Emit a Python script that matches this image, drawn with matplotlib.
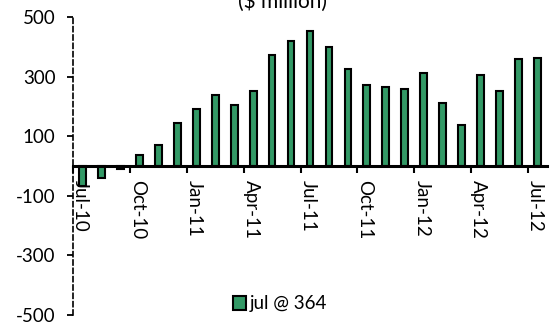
import matplotlib.pyplot as plt

plt.rcParams['font.family'] = ['Lato', 'DejaVu Sans']

months = ['Jul-10', 'Aug-10', 'Sep-10', 'Oct-10', 'Nov-10', 'Dec-10',
          'Jan-11', 'Feb-11', 'Mar-11', 'Apr-11', 'May-11', 'Jun-11',
          'Jul-11', 'Aug-11', 'Sep-11', 'Oct-11', 'Nov-11', 'Dec-11',
          'Jan-12', 'Feb-12', 'Mar-12', 'Apr-12', 'May-12', 'Jun-12', 'Jul-12']
values = [-65, -40, -10, 38, 72, 145, 193, 239, 206, 254, 374, 421,
          455, 401, 327, 273, 266, 259, 313, 212, 138, 307, 254, 361, 364]
series_name = 'jul @ 364'
yticks = [-500, -300, -100, 100, 300, 500]

fig = plt.figure(figsize=(5.51, 3.25), dpi=100)
ax = fig.add_axes([73/551, 1 - 315/325, 474/551, (315 - 17.3)/325])

x = list(range(len(values)))
bars = ax.bar(x, values, width=0.36, color='#339966', edgecolor='black',
              linewidth=1.5, label=series_name, zorder=3)

ax.set_xlim(-0.5, len(values) - 0.5)
ax.set_ylim(-500, 500)

# y axis: dashed spine
ax.spines['left'].set_linestyle((0, (3, 2)))
ax.spines['left'].set_linewidth(1.2)
ax.spines['right'].set_visible(False)
ax.spines['top'].set_visible(False)
ax.spines['bottom'].set_position(('data', 0))
ax.spines['bottom'].set_linewidth(2.2)
ax.spines['bottom'].set_zorder(4)

ax.set_yticks(yticks)
ax.set_yticklabels([str(v) for v in yticks], fontsize=13.5)
ax.tick_params(axis='y', direction='out', length=4.5, width=1.3, pad=8)

# labels at category centres, tick marks at category boundaries
lab_idx = list(range(0, len(months), 3))
ax.set_xticks([i - 0.1 for i in lab_idx])
ax.set_xticklabels([months[i] for i in lab_idx], rotation=270, fontsize=13.5)
ax.tick_params(axis='x', which='major', length=0, pad=10)
ax.set_xticks([i - 0.5 for i in lab_idx], minor=True)
ax.tick_params(axis='x', which='minor', direction='out', length=5, width=1.5)

fig.text(0.512, 1 - 2/325, '($ million)', ha='center', va='center', fontsize=15)

fig.legend(handles=[bars], labels=[series_name], loc='center',
           bbox_to_anchor=(0.508, 1 - 304/325), frameon=False, fontsize=13.5,
           handlelength=0.7, handleheight=0.7, handletextpad=0.2)

fig.savefig('out.png', dpi=100)
